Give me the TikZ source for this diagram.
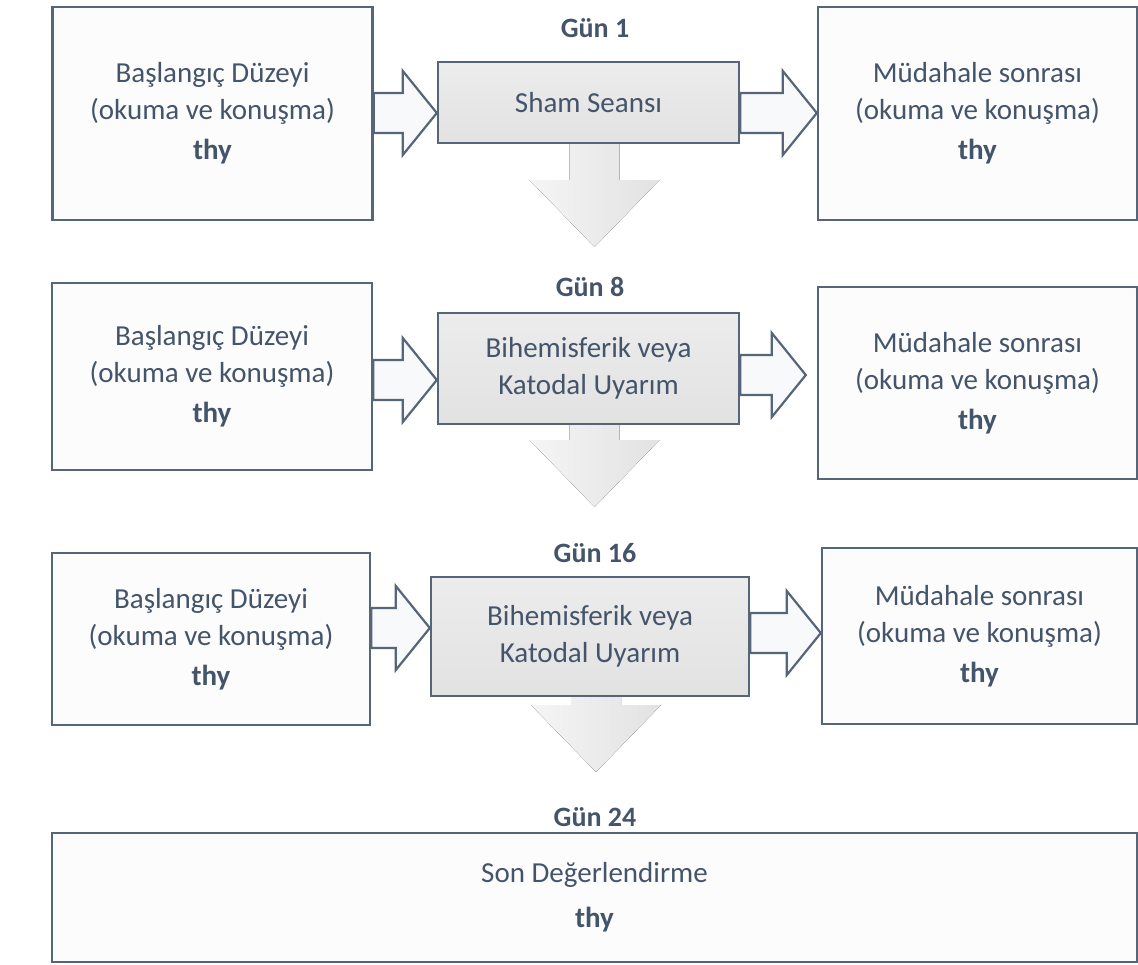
\documentclass[tikz,border=0pt]{standalone}
\usepackage{fontspec}
\setmainfont{Carlito}
\usetikzlibrary{calc}
\definecolor{ink}{HTML}{44546A}
\definecolor{edge}{HTML}{56657A}
\definecolor{boxbg}{HTML}{FCFCFC}
\definecolor{arrbg}{HTML}{F8F9FA}
\definecolor{midtop}{HTML}{ECECEC}
\definecolor{midbot}{HTML}{E2E2E2}
\definecolor{downl}{HTML}{F5F5F5}
\definecolor{downr}{HTML}{E2E2E2}
\tikzset{
  box/.style={draw=edge, line width=1.2pt, fill=boxbg, text=ink, inner sep=0pt,
    align=center, font=\fontsize{14.5}{18.5}\selectfont},
  midbox/.style={box, top color=midtop, bottom color=midbot},
  day/.style={text=ink, font=\fontsize{14}{16}\selectfont\bfseries},
  blockarr/.style={draw=edge, line width=1.1pt, fill=arrbg, line join=miter},
  downarr/.style={left color=downl, right color=downr, draw=none},
}
% hollow block arrow: from, to, y, gap before tip
\newcommand{\hollowarr}[4]{%
  \draw[blockarr] ($(#1.east |- 0,#3)+(0,-20)$)
    -- ($(#2.west |- 0,#3)+(-34-#4,-20)$) -- ++(0,-22)
    -- ($(#2.west |- 0,#3)+(-#4,0)$)
    -- ($(#2.west |- 0,#3)+(-34-#4,42)$) -- ++(0,-22)
    -- ($(#1.east |- 0,#3)+(0,20)$) -- cycle;}
% grey arrow going down from a box to a tip at y
\newcommand{\downarr}[2]{%
  \fill[downarr] ($(#1.south)+(-19,0)$) -- ($(#1.south |- 0,#2)+(-19,-67)$) -- ++(-40,0)
    -- ($(#1.south |- 0,#2)+(6,0)$) -- ++(65,-67) -- ++(-40,0)
    -- ($(#1.south)+(31,0)$) -- cycle;}

\begin{document}
\begin{tikzpicture}[x=0.5pt, y=-0.5pt]
  \useasboundingbox (0,0) rectangle (1138,964);

  % Gun 1
  \node[day] (d1) at (595,28) {Gün 1};
  \node[box, minimum width=160pt, minimum height=106.5pt] (L1) at (212.5,113.5)
    {Başlangıç Düzeyi\\(okuma ve konuşma)\\[1.5pt]\textbf{thy}};
  \node[midbox, minimum width=150.5pt, minimum height=40.5pt] (M1) at (588.5,102.5)
    {Sham Seansı};
  \node[box, minimum width=159.5pt, minimum height=106.5pt] (R1) at (977.5,113.5)
    {Müdahale sonrası\\(okuma ve konuşma)\\[1.5pt]\textbf{thy}};
  \hollowarr{L1}{M1}{113}{0}
  \hollowarr{M1}{R1}{113}{0}
  \downarr{M1}{247}

  % Gun 8
  \node[day] (d8) at (590,287) {Gün 8};
  \node[box, minimum width=160pt, minimum height=93.5pt] (L2) at (212,376.5)
    {Başlangıç Düzeyi\\(okuma ve konuşma)\\[1.5pt]\textbf{thy}};
  \node[midbox, minimum width=150.5pt, minimum height=55.5pt] (M2) at (588.5,368.5)
    {Bihemisferik veya\\Katodal Uyarım};
  \node[box, minimum width=159.5pt, minimum height=96pt] (R2) at (977.5,383)
    {Müdahale sonrası\\(okuma ve konuşma)\\[1.5pt]\textbf{thy}};
  \hollowarr{L2}{M2}{380}{0}
  \hollowarr{M2}{R2}{375}{11}
  \downarr{M2}{507}

  % Gun 16
  \node[day] (d16) at (595,553) {Gün 16};
  \node[box, minimum width=159pt, minimum height=86pt] (L3) at (211,639)
    {Başlangıç Düzeyi\\(okuma ve konuşma)\\[1.5pt]\textbf{thy}};
  \node[midbox, minimum width=159pt, minimum height=59.5pt] (M3) at (590,636.5)
    {Bihemisferik veya\\Katodal Uyarım};
  \node[box, minimum width=157.5pt, minimum height=88pt] (R3) at (979.5,636)
    {Müdahale sonrası\\(okuma ve konuşma)\\[1.5pt]\textbf{thy}};
  \hollowarr{L3}{M3}{628}{0}
  \hollowarr{M3}{R3}{633}{0}
  \downarr{M3}{772}

  % Gun 24
  \node[day] (d24) at (595,817) {Gün 24};
  \node[box, minimum width=542.5pt, minimum height=64.5pt] (F) at (594.5,897.5)
    {Son Değerlendirme\\[4pt]\textbf{thy}};
\end{tikzpicture}
\end{document}
